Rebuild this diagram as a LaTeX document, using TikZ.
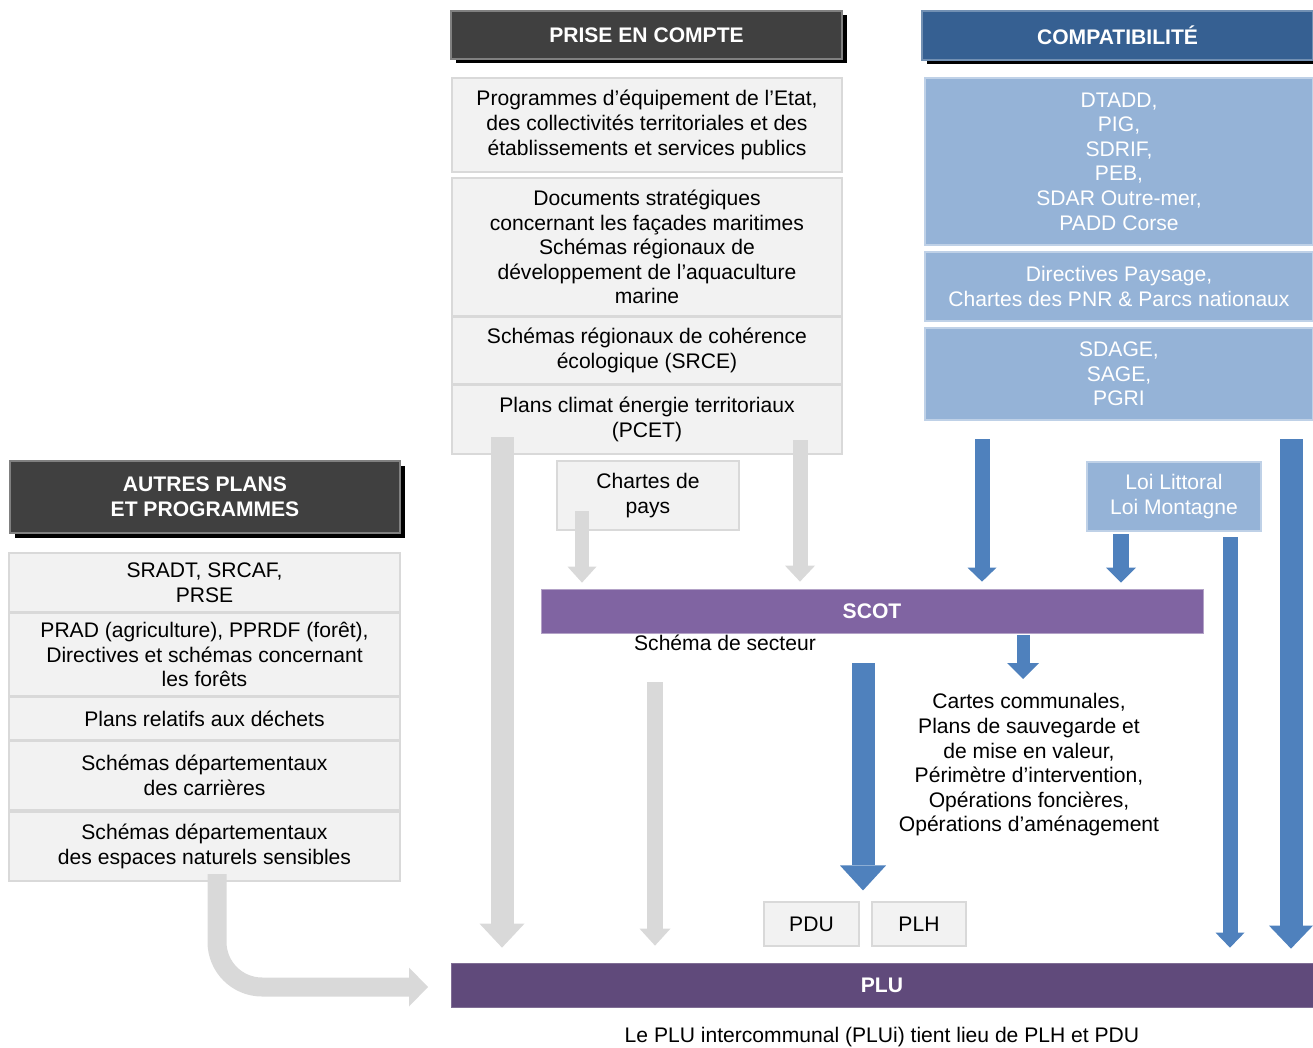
\documentclass[tikz,border=0pt]{standalone}
\usepackage{fontspec}
\setmainfont{Liberation Sans}
\usetikzlibrary{arrows.meta,shadows}

\definecolor{boxgray}{HTML}{F2F2F2}
\definecolor{linegray}{HTML}{D9D9D9}
\definecolor{headgray}{HTML}{404040}
\definecolor{headblue}{HTML}{366092}
\definecolor{paleblue}{HTML}{95B3D7}
\definecolor{arrowblue}{HTML}{4F81BD}
\definecolor{scotviolet}{HTML}{8064A2}
\definecolor{pluviolet}{HTML}{604A7B}

\newcommand\dfont{\fontsize{12}{14}\selectfont}

\tikzset{
 every node/.append style={font=\dfont,align=center,inner sep=0pt},
 header/.style={fill=headgray,draw=gray,line width=0.6pt,text=white,font=\dfont\bfseries,
   general shadow={fill=black,shadow xshift=0.09cm,shadow yshift=-0.09cm}},
 graybox/.style={fill=boxgray,draw=linegray,line width=0.6pt},
 bluebox/.style={fill=paleblue,draw=paleblue!60,line width=0.6pt,text=white},
 bar/.style={text=white,font=\dfont\bfseries},
 blockarrow/.style n args={4}{draw=#1,line width=#2,
   -{Triangle[width=#3,length=#4,line width=0pt]}}
}

\begin{document}
\begin{tikzpicture}
\useasboundingbox (0,0) rectangle (26.26,-20.96);

\node[header,minimum width=7.82cm,minimum height=0.96cm] (pec) at (12.93,-0.70) {PRISE EN COMPTE};
\node[header,fill=headblue,draw=headblue!70,minimum width=7.82cm,minimum height=0.98cm] (compat) at (22.35,-0.71) {COMPATIBILITÉ};
\node[header,minimum width=7.8cm,minimum height=1.44cm] (autres) at (4.10,-9.94) {AUTRES PLANS\\ET PROGRAMMES};

\begin{scope}[every node/.append style={graybox,minimum width=7.8cm}]
\node[minimum height=1.88cm] (prog) at (12.94,-2.50) {Programmes d’équipement de l’Etat,\\des collectivités territoriales et des\\établissements et services publics};
\node[minimum height=2.76cm] (docs) at (12.94,-4.94) {Documents stratégiques\\concernant les façades maritimes\\Schémas régionaux de\\développement de l’aquaculture\\marine};
\node[minimum height=1.34cm] (srce) at (12.94,-7.01) {Schémas régionaux de cohérence\\écologique (SRCE)};
\node[minimum height=1.38cm] (pcet) at (12.94,-8.39) {Plans climat énergie territoriaux\\(PCET)};
\end{scope}
\node[graybox,minimum width=3.64cm,minimum height=1.38cm] (chartes) at (12.96,-9.91) {Chartes de\\pays};

\begin{scope}[every node/.append style={bluebox,minimum width=7.76cm}]
\node[minimum height=3.34cm] (dtadd) at (22.38,-3.23) {DTADD,\\PIG,\\SDRIF,\\PEB,\\SDAR Outre-mer,\\PADD Corse};
\node[minimum height=1.38cm] (paysage) at (22.38,-5.73) {Directives Paysage,\\Chartes des PNR \& Parcs nationaux};
\node[minimum height=1.84cm] (sdage) at (22.38,-7.48) {SDAGE,\\SAGE,\\PGRI};
\end{scope}
\node[bluebox,minimum width=3.48cm,minimum height=1.38cm] (loi) at (23.48,-9.93) {Loi Littoral\\Loi Montagne};

\begin{scope}[every node/.append style={graybox,minimum width=7.82cm}]
\node[minimum height=1.18cm] (sradt) at (4.09,-11.65) {SRADT, SRCAF,\\PRSE};
\node[minimum height=1.66cm] (prad) at (4.09,-13.09) {PRAD (agriculture), PPRDF (forêt),\\Directives et schémas concernant\\les forêts};
\node[minimum height=0.86cm] (dechets) at (4.09,-14.37) {Plans relatifs aux déchets};
\node[minimum height=1.38cm] (carrieres) at (4.09,-15.51) {Schémas départementaux\\des carrières};
\node[minimum height=1.38cm] (ens) at (4.09,-16.93) {Schémas départementaux\\des espaces naturels sensibles};
\end{scope}

\node[bar,fill=scotviolet,draw=scotviolet!60,minimum width=13.24cm,minimum height=0.88cm] (scot) at (17.44,-12.22) {SCOT};
\node (secteur) at (14.50,-12.86) {Schéma de secteur};
\node (cartes) at (20.58,-15.30) {Cartes communales,\\Plans de sauvegarde et\\de mise en valeur,\\Périmètre d’intervention,\\Opérations foncières,\\Opérations d’aménagement};
\node[graybox,minimum width=1.90cm,minimum height=0.88cm] (pdu) at (16.23,-18.48) {PDU};
\node[graybox,minimum width=1.88cm,minimum height=0.88cm] (plh) at (18.38,-18.48) {PLH};
\node[bar,fill=pluviolet,draw=pluviolet!80,minimum width=17.24cm,minimum height=0.88cm] (plu) at (17.64,-19.70) {PLU};
\node (plui) at (17.64,-20.74) {Le PLU intercommunal (PLUi) tient lieu de PLH et PDU};

\coordinate (g1) at (10.04,-8.74);
\coordinate (g2) at (16.00,-8.80);
\coordinate (g3) at (11.64,-10.22);
\coordinate (g4) at (13.10,-13.64);
\coordinate (g5) at (4.34,-17.48);
\coordinate (g5e) at (8.56,-19.74);
\draw[blockarrow={linegray}{0.46cm}{0.90cm}{0.48cm},shorten >=0.30cm] (g1) -- (g1 |- plu.north);
\draw[blockarrow={linegray}{0.30cm}{0.60cm}{0.32cm},shorten >=0.14cm] (g2) -- (g2 |- scot.north);
\draw[blockarrow={linegray}{0.28cm}{0.58cm}{0.32cm},shorten >=0.12cm] (g3) -- (g3 |- scot.north);
\draw[blockarrow={linegray}{0.32cm}{0.62cm}{0.34cm},shorten >=0.34cm] (g4) -- (g4 |- plu.north);
\draw[blockarrow={linegray}{0.38cm}{0.78cm}{0.38cm},rounded corners=0.9cm] (g5) |- (g5e);

\coordinate (b1) at (19.64,-8.78);
\coordinate (b2) at (22.42,-10.68);
\coordinate (b3) at (20.46,-12.70);
\coordinate (b3e) at (20.46,-13.58);
\coordinate (b4) at (17.26,-13.26);
\coordinate (b5) at (24.60,-10.74);
\coordinate (b6) at (25.82,-8.78);
\draw[blockarrow={arrowblue}{0.30cm}{0.58cm}{0.28cm},shorten >=0.14cm] (b1) -- (b1 |- scot.north);
\draw[blockarrow={arrowblue}{0.32cm}{0.60cm}{0.30cm},shorten >=0.12cm] (b2) -- (b2 |- scot.north);
\draw[blockarrow={arrowblue}{0.26cm}{0.64cm}{0.32cm}] (b3) -- (b3e);
\draw[blockarrow={arrowblue}{0.46cm}{0.92cm}{0.50cm},shorten >=0.22cm] (b4) -- (b4 |- pdu.north);
\draw[blockarrow={arrowblue}{0.30cm}{0.58cm}{0.30cm},shorten >=0.30cm] (b5) -- (b5 |- plu.north);
\draw[blockarrow={arrowblue}{0.46cm}{0.88cm}{0.46cm},shorten >=0.28cm] (b6) -- (b6 |- plu.north);
\end{tikzpicture}
\end{document}
